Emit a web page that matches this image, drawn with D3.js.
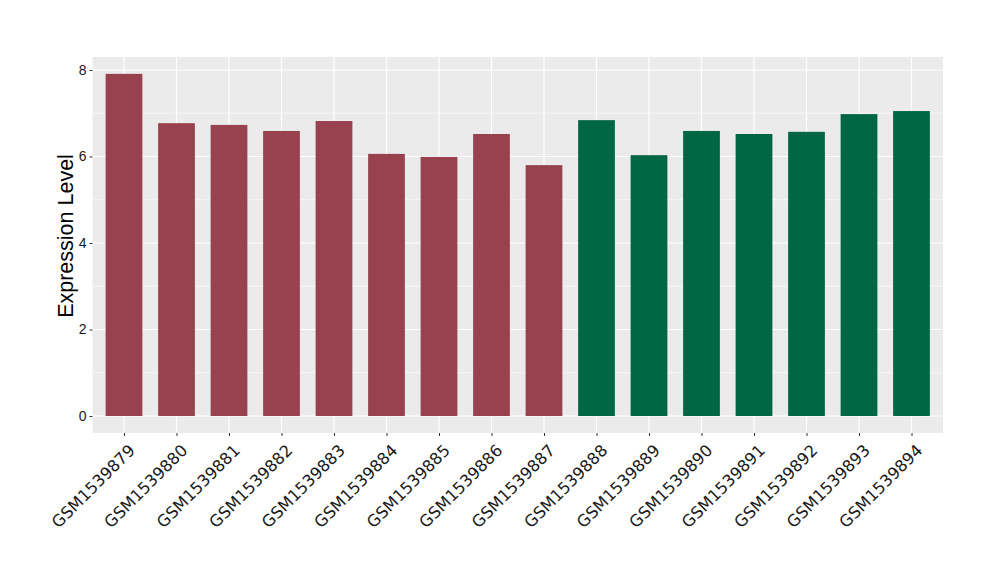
<!DOCTYPE html>
<html><head><meta charset="utf-8">
<script src="https://cdn.jsdelivr.net/npm/d3@7"></script>
<style>body{margin:0;background:#fff}</style>
</head><body>
<svg id="c" width="1000" height="580"></svg>
<script>
const categories = ["GSM1539879","GSM1539880","GSM1539881","GSM1539882","GSM1539883","GSM1539884","GSM1539885","GSM1539886","GSM1539887","GSM1539888","GSM1539889","GSM1539890","GSM1539891","GSM1539892","GSM1539893","GSM1539894"];
const values = [7.91,6.77,6.73,6.59,6.82,6.06,5.99,6.52,5.80,6.84,6.03,6.59,6.52,6.57,6.98,7.05];
const groups = ["A","A","A","A","A","A","A","A","A","B","B","B","B","B","B","B"];
const groupColors = {A:"#99424f", B:"#006644"};
const yTicks = [0,2,4,6,8];
const yMinor = [1,3,5,7];
const yLabel = "Expression Level";

const svg = d3.select("#c");
const L = 92.5, R = 943, T = 57, B = 433;
const step = (R - L) / (categories.length - 1 + 1.2);
const x = d3.scalePoint().domain(categories).range([L + 0.6*step, R - 0.6*step]);
const bw = step * 0.7;
const y = d3.scaleLinear().domain([-0.393, 8.3]).range([B, T]);

svg.append("rect").attr("x", L).attr("y", T).attr("width", R-L).attr("height", B-T).attr("fill", "#ebebeb");
const g = svg.append("g");
g.selectAll(".ymin").data(yMinor).join("line").attr("x1", L).attr("x2", R)
  .attr("y1", d=>y(d)).attr("y2", d=>y(d)).attr("stroke", "#fff").attr("stroke-width", 0.6);
g.selectAll(".ymaj").data(yTicks).join("line").attr("x1", L).attr("x2", R)
  .attr("y1", d=>y(d)).attr("y2", d=>y(d)).attr("stroke", "#fff").attr("stroke-width", 1.2);
g.selectAll(".xmaj").data(categories).join("line").attr("y1", T).attr("y2", B)
  .attr("x1", d=>x(d)).attr("x2", d=>x(d)).attr("stroke", "#fff").attr("stroke-width", 1.2);

svg.append("g").selectAll("rect").data(categories).join("rect")
  .attr("x", d=>x(d)-bw/2).attr("width", bw)
  .attr("y", (d,i)=>y(values[i])).attr("height", (d,i)=>y(0)-y(values[i]))
  .attr("fill", (d,i)=>groupColors[groups[i]]);

// y axis
const ya = svg.append("g").attr("transform", `translate(${L},0)`)
  .call(d3.axisLeft(y).tickValues(yTicks).tickSize(3).tickPadding(3));
ya.select(".domain").remove();
ya.selectAll("line").attr("stroke", "#333");
ya.selectAll("text").attr("fill", "#1a1a1a").style("font-family", "Liberation Sans, Arial, sans-serif").style("font-size", "14px");

// x axis
const xa = svg.append("g").attr("transform", `translate(0,${B})`)
  .call(d3.axisBottom(x).tickSize(3).tickPadding(3));
xa.select(".domain").remove();
xa.selectAll("line").attr("stroke", "#333");
xa.selectAll("text").attr("fill", "#1a1a1a")
  .style("font-family", "DejaVu Sans, sans-serif").style("font-size", "16.3px")
  .attr("text-anchor", "end").attr("dy", null).attr("y", 0)
  .attr("transform", "translate(3,10) rotate(-45)")
  .attr("dominant-baseline", "hanging");

svg.append("text").attr("transform", `translate(73,236) rotate(-90)`)
  .attr("text-anchor", "middle").style("font-family", "Liberation Sans, Arial, sans-serif")
  .style("font-size", "21.5px").attr("fill", "#000").text(yLabel);
</script>
</body></html>
